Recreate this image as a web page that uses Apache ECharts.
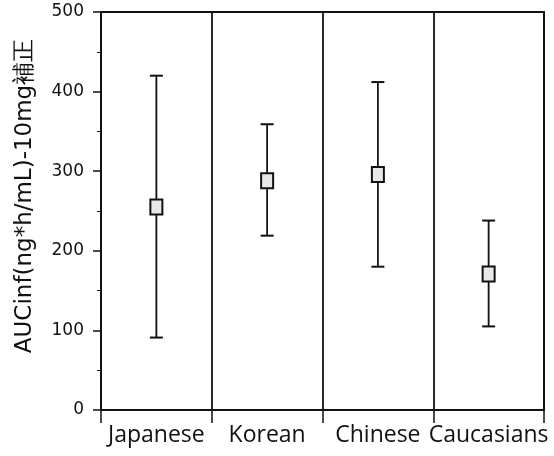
<!DOCTYPE html>
<html>
<head>
<meta charset="utf-8">
<script src="https://cdn.jsdelivr.net/npm/echarts@6/dist/echarts.min.js"></script>
<style>
  html, body { margin: 0; padding: 0; background: #fff; }
  #chart { width: 554px; height: 456px; }
</style>
</head>
<body>
<div id="chart"></div>
<script>
// Groups on the x axis
const groups = ['Japanese', 'Korean', 'Chinese', 'Caucasians'];
// Dose-normalised AUCinf per group: mean with lower / upper whisker ends
const meanValues = [255, 288, 296, 171];
const lowerValues = [91, 219, 180, 105];
const upperValues = [420, 359, 412, 238];
// Y axis ticks
const yTicks = [0, 100, 200, 300, 400, 500];

const rows = groups.map((g, i) => [i, meanValues[i], lowerValues[i], upperValues[i]]);

const chart = echarts.init(document.getElementById('chart'));

function renderErrorBar(params, api) {
  const idx = api.value(0);
  const mid = api.coord([idx, api.value(1)]);
  const lo = api.coord([idx, api.value(2)]);
  const hi = api.coord([idx, api.value(3)]);
  const x = mid[0];
  const capHalf = 6.5;
  const boxW = 12, boxH = 15;
  const lineStyle = { stroke: '#111', lineWidth: 1.8 };
  return {
    type: 'group',
    children: [
      { type: 'line', shape: { x1: x, y1: hi[1], x2: x, y2: lo[1] }, style: lineStyle },
      { type: 'line', shape: { x1: x - capHalf, y1: hi[1], x2: x + capHalf, y2: hi[1] }, style: { stroke: '#111', lineWidth: 2 } },
      { type: 'line', shape: { x1: x - capHalf, y1: lo[1], x2: x + capHalf, y2: lo[1] }, style: { stroke: '#111', lineWidth: 2 } },
      { type: 'rect', shape: { x: x - boxW / 2, y: mid[1] - boxH / 2, width: boxW, height: boxH },
        style: { fill: '#e8e8e8', stroke: '#111', lineWidth: 2 } }
    ]
  };
}

chart.setOption({
  animation: false,
  backgroundColor: '#ffffff',
  grid: {
    left: 101, right: 10, top: 12, bottom: 46,
    show: true, borderColor: '#111', borderWidth: 1.8, backgroundColor: 'transparent'
  },
  xAxis: {
    type: 'category',
    data: groups,
    boundaryGap: true,
    axisLine: { lineStyle: { color: '#111', width: 1.8 } },
    axisTick: { show: true, length: 13, lineStyle: { color: '#111', width: 1.5 } },
    axisLabel: { color: '#111', fontFamily: 'Open Sans', fontSize: 23, margin: 14, interval: 0 },
    splitLine: { show: true, lineStyle: { color: '#111', width: 1.8 } }
  },
  yAxis: {
    type: 'value',
    min: yTicks[0],
    max: yTicks[yTicks.length - 1],
    interval: 100,
    name: 'AUCinf(ng*h/mL)-10mg補正',
    nameLocation: 'middle',
    nameGap: 64,
    nameTextStyle: { color: '#111', fontFamily: 'DejaVu Sans', fontSize: 23, padding: [0, 0, 0, 30] },
    axisLine: { show: true, lineStyle: { color: '#111', width: 1.8 } },
    axisTick: { show: true, length: 8, lineStyle: { color: '#111', width: 1.5 } },
    minorTick: { show: true, splitNumber: 2, length: 4, lineStyle: { color: '#111', width: 1 } },
    axisLabel: { color: '#111', fontFamily: 'DejaVu Sans', fontSize: 17, margin: 17 },
    splitLine: { show: false }
  },
  series: [{
    type: 'custom',
    renderItem: renderErrorBar,
    encode: { x: 0, y: [1, 2, 3] },
    data: rows,
    z: 10
  }]
});
</script>
</body>
</html>
